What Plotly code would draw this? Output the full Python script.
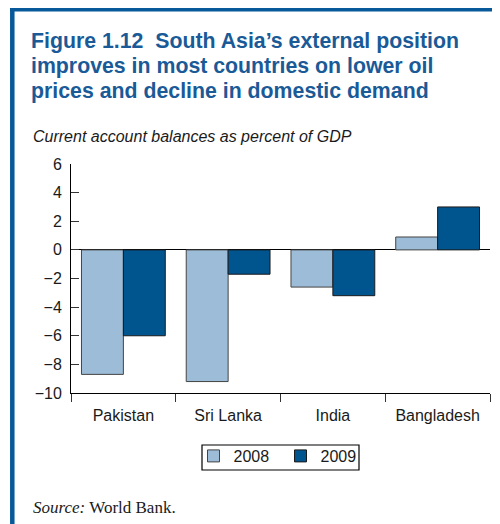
import plotly.graph_objects as go

# Current account balances, % of GDP
countries = ["Pakistan", "Sri Lanka", "India", "Bangladesh"]
values_2008 = [-8.7, -9.2, -2.6, 0.9]
values_2009 = [-6.0, -1.7, -3.2, 3.0]
y_ticks = [-10, -8, -6, -4, -2, 0, 2, 4, 6]

# the page has an 8px body margin, so the figure is drawn 8px smaller
OFF = 8
W, H = 500 - OFF, 524 - OFF
L, R, T, B = 71 - OFF, 10, 164 - OFF, 524 - 393
PW, PH = W - L - R, H - T - B


def px_x(x):
    # reference pixel -> paper fraction
    return (x - OFF - L) / PW


def px_y(y):
    return (H - B - (y - OFF)) / PH


fig = go.Figure()
fig.add_trace(go.Bar(
    x=countries, y=values_2008, name="2008",
    marker=dict(color="#9DBCD8", line=dict(color="#444444", width=1)),
))
fig.add_trace(go.Bar(
    x=countries, y=values_2009, name="2009",
    marker=dict(color="#00558F", line=dict(color="#1a1a1a", width=1)),
))

fig.update_layout(
    width=W, height=H,
    margin=dict(l=L, r=R, t=T, b=B),
    paper_bgcolor="white", plot_bgcolor="white",
    barmode="group", bargap=0.2, bargroupgap=0,
    font=dict(family="Liberation Sans", size=16, color="#1a1a1a"),
    showlegend=True,
    legend=dict(
        orientation="h", x=0.5, xanchor="center",
        y=px_y(456), yanchor="middle",
        bgcolor="rgba(0,0,0,0)", borderwidth=0, font=dict(size=16),
        entrywidth=42, tracegroupgap=0,
    ),
)
fig.update_xaxes(
    showline=True, linecolor="black", linewidth=1,
    ticks="outside", tickson="boundaries", ticklen=8, tickcolor="#333",
    ticklabelstandoff=8,
    tickfont=dict(size=16), showgrid=False,
)
fig.update_yaxes(
    range=[-10, 6], tickvals=y_ticks,
    showline=True, linecolor="black", linewidth=1,
    ticks="inside", ticklen=8, tickcolor="#333", ticklabelstandoff=5,
    tickfont=dict(size=16), showgrid=False,
    zeroline=True, zerolinecolor="black", zerolinewidth=1,
)

# legend frame drawn by hand (plotly pads its own box too much)
fig.add_shape(type="rect", xref="paper", yref="paper",
              x0=px_x(202), x1=px_x(359), y0=px_y(445), y1=px_y(470),
              line=dict(color="black", width=1.2))

# blue frame on top and left
blue = "#07599A"
fig.add_shape(type="line", xref="paper", yref="paper",
              x0=px_x(10), x1=px_x(505), y0=px_y(9.2), y1=px_y(9.2),
              line=dict(color=blue, width=4.5))
fig.add_shape(type="line", xref="paper", yref="paper",
              x0=px_x(12.3), x1=px_x(12.3), y0=px_y(7), y1=px_y(530),
              line=dict(color=blue, width=4.5))

title_lines = [
    "Figure 1.12\u00a0\u00a0South Asia\u2019s external position",
    "improves in most countries on lower oil",
    "prices and decline in domestic demand",
]
for i, line in enumerate(title_lines):
    fig.add_annotation(
        xref="paper", yref="paper", x=px_x(29), y=px_y(27 + 25 * i),
        xanchor="left", yanchor="top", align="left", showarrow=False,
        text="<b>" + line + "</b>",
        font=dict(family="Liberation Sans", size=21.3, color="#1A5A97"),
    )
fig.add_annotation(
    xref="paper", yref="paper", x=px_x(31), y=px_y(126),
    xanchor="left", yanchor="top", align="left", showarrow=False,
    text="<i>Current account balances as percent of GDP</i>",
    font=dict(family="Liberation Sans", size=16, color="#1a1a1a"),
)
fig.add_annotation(
    xref="paper", yref="paper", x=px_x(31), y=px_y(496),
    xanchor="left", yanchor="top", align="left", showarrow=False,
    text="<i>Source:</i> World Bank.",
    font=dict(family="Liberation Serif", size=17, color="#1a1a1a"),
)

fig.write_html("out.html")
